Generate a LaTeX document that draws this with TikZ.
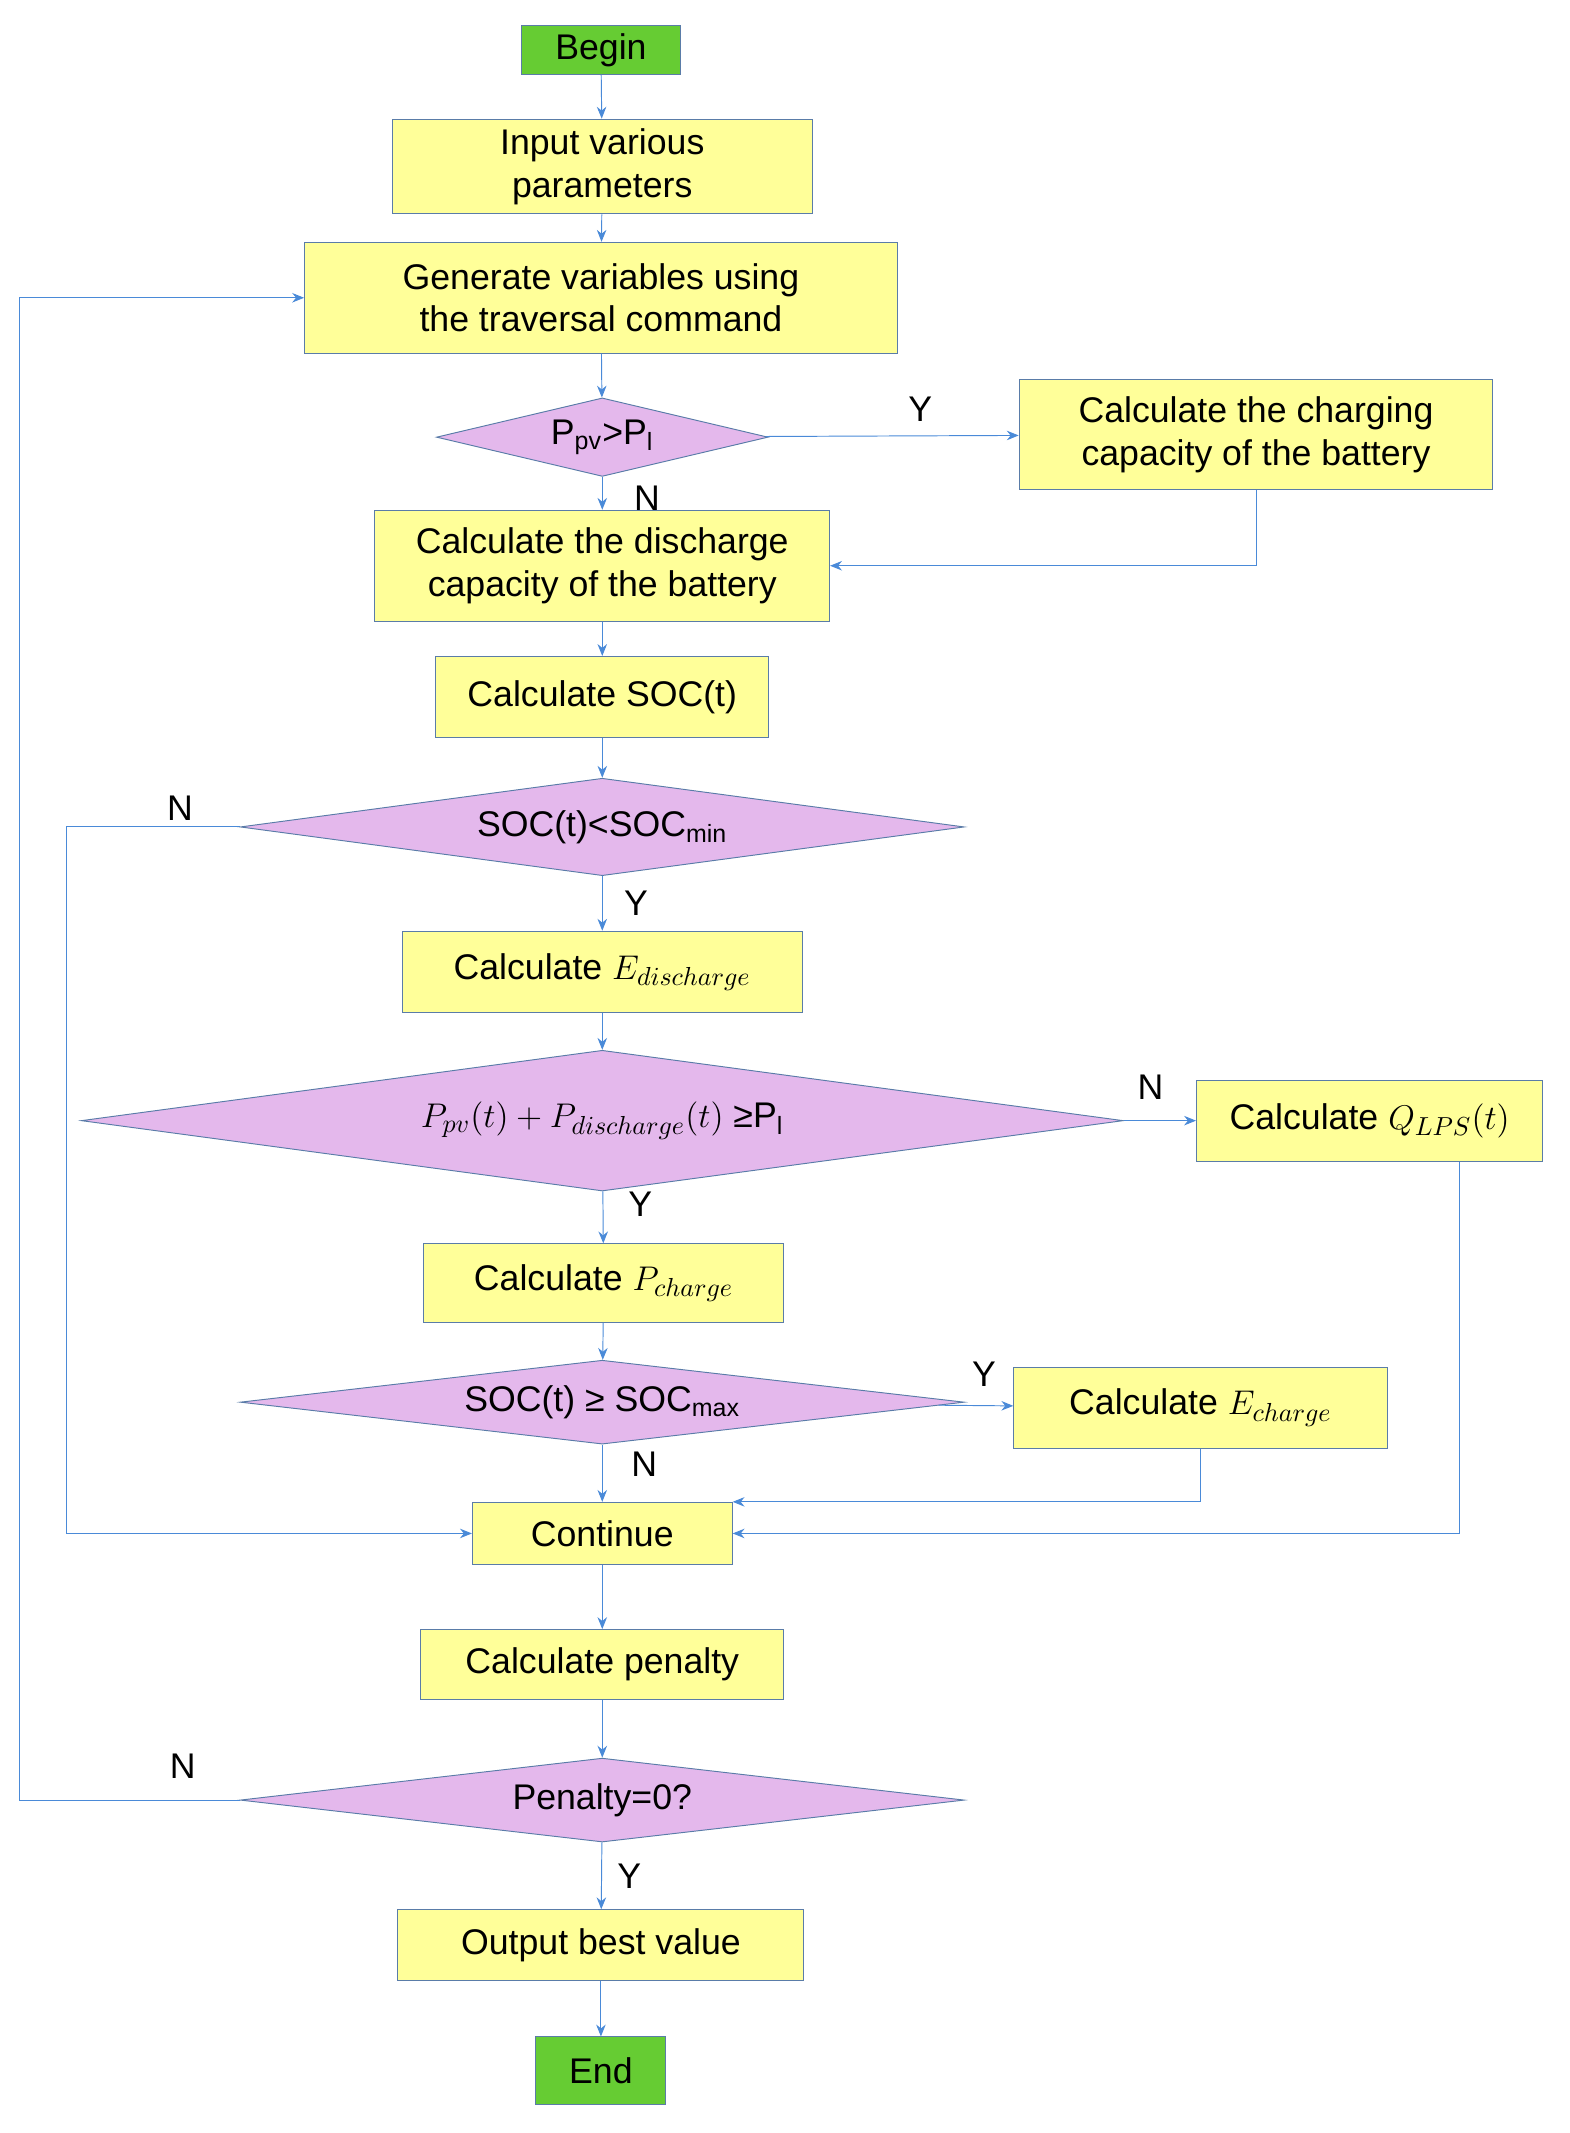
\documentclass[tikz,border=0pt]{standalone}
\usepackage{fontspec}
\setmainfont{Liberation Sans}
\usetikzlibrary{shapes.geometric,arrows.meta,positioning}
\definecolor{boxfill}{HTML}{FFFF99}
\definecolor{decfill}{HTML}{E4B8EC}
\definecolor{startfill}{HTML}{66CC33}
\definecolor{edge}{HTML}{5A7CA8}
\definecolor{flowline}{HTML}{4A8AD8}
\begin{document}
\begin{tikzpicture}[x=0.02cm, y=-0.02cm,
    every node/.style={font=\fontsize{15}{18}\selectfont},
    process/.style={rectangle, draw=edge, fill=boxfill, align=center, inner sep=2pt},
    term/.style={rectangle, draw=edge, fill=startfill, align=center, inner sep=2pt},
    decision/.style={diamond, draw=edge, fill=decfill, inner sep=0pt, align=center},
    flow/.style={-{Stealth[length=5pt,width=4pt]}, draw=flowline, thin},
    lbl/.style={font=\fontsize{15}{18}\selectfont}
]
    \useasboundingbox (0,0) rectangle (1160,1576);

    \node[term, minimum width=2.36cm, minimum height=0.72cm] (begin) at (444,37) {Begin};
    \node[process, minimum width=6.2cm, minimum height=1.4cm] (input) at (445,123) {Input various\\parameters};
    \node[process, minimum width=8.76cm, minimum height=1.64cm] (gen) at (444,220) {Generate variables using\\the traversal command};
    \node[decision, aspect=4.2, minimum width=4.9cm, minimum height=1.16cm] (d1) at (445,323) {P\textsubscript{pv}>P\textsubscript{l}};
    \node[process, minimum width=7cm, minimum height=1.64cm] (chg) at (928,321) {Calculate the charging\\capacity of the battery};
    \node[process, minimum width=6.72cm, minimum height=1.64cm] (dis) at (445,418) {Calculate the discharge\\capacity of the battery};
    \node[process, minimum width=4.92cm, minimum height=1.2cm] (soc) at (445,515) {Calculate SOC(t)};
    \node[decision, aspect=7.4, minimum width=10.7cm, minimum height=1.44cm] (d2) at (445,611) {SOC(t)<SOC\textsubscript{min}};
    \node[process, minimum width=5.92cm, minimum height=1.2cm] (edis) at (445,718) {Calculate $E_{discharge}$};
    \node[decision, aspect=7.4, minimum width=15.4cm, minimum height=2.08cm] (d3) at (445,828) {$P_{pv}(t)+P_{discharge}(t)$ ≥P\textsubscript{l}};
    \node[process, minimum width=5.12cm, minimum height=1.2cm] (qlps) at (1012,828) {Calculate $Q_{LPS}(t)$};
    \node[process, minimum width=5.32cm, minimum height=1.16cm] (pchg) at (446,948) {Calculate $P_{charge}$};
    \node[decision, aspect=8.6, minimum width=10.7cm, minimum height=1.24cm] (d4) at (445,1036) {SOC(t) ≥ SOC\textsubscript{max}};
    \node[process, minimum width=5.52cm, minimum height=1.2cm] (echg) at (887,1040) {Calculate $E_{charge}$};
    \node[process, minimum width=3.84cm, minimum height=0.92cm] (cont) at (445,1133) {Continue};
    \node[process, minimum width=5.36cm, minimum height=1.04cm] (pen) at (445,1230) {Calculate penalty};
    \node[decision, aspect=8.6, minimum width=10.7cm, minimum height=1.24cm] (d5) at (445,1330) {Penalty=0?};
    \node[process, minimum width=6cm, minimum height=1.04cm] (out) at (444,1437) {Output best value};
    \node[term, minimum width=1.92cm, minimum height=1cm] (end) at (444,1530) {End};

    % main line
    \draw[flow] (begin) -- (input);
    \draw[flow] (input) -- (gen);
    \draw[flow] (gen) -- (d1);
    \draw[flow] (d1) -- (dis);
    \draw[flow] (dis) -- (soc);
    \draw[flow] (soc) -- (d2);
    \draw[flow] (d2) -- (edis);
    \draw[flow] (edis) -- (d3);
    \draw[flow] (d3) -- (pchg);
    \draw[flow] (pchg) -- (d4);
    \draw[flow] (d4) -- (cont);
    \draw[flow] (cont) -- (pen);
    \draw[flow] (pen) -- (d5);
    \draw[flow] (d5) -- (out);
    \draw[flow] (out) -- (end);

    % branches
    \draw[flow] (d1) -- (chg);
    \draw[flow] (chg.south) |- (dis.east);
    \draw[flow] (d3) -- (qlps);
    \draw[flow] ([xshift=1.32cm]qlps.south) |- (cont.east);
    \draw[flow] (d4) -- (echg);
    \draw[flow] (echg.south) |- (cont.north east);
    \draw[flow] (d2.west) -- ++(-128,0) |- (cont.west);
    \draw[flow] (d5.west) -- ++(-163,0) |- (gen.west);

    % labels
    \node[lbl] at (680,302) {Y};
    \node[lbl] at (478,368) {N};
    \node[lbl] at (133,597) {N};
    \node[lbl] at (470,667) {Y};
    \node[lbl] at (850,803) {N};
    \node[lbl] at (473,890) {Y};
    \node[lbl] at (727,1015) {Y};
    \node[lbl] at (476,1082) {N};
    \node[lbl] at (135,1305) {N};
    \node[lbl] at (465,1386) {Y};
\end{tikzpicture}
\end{document}
